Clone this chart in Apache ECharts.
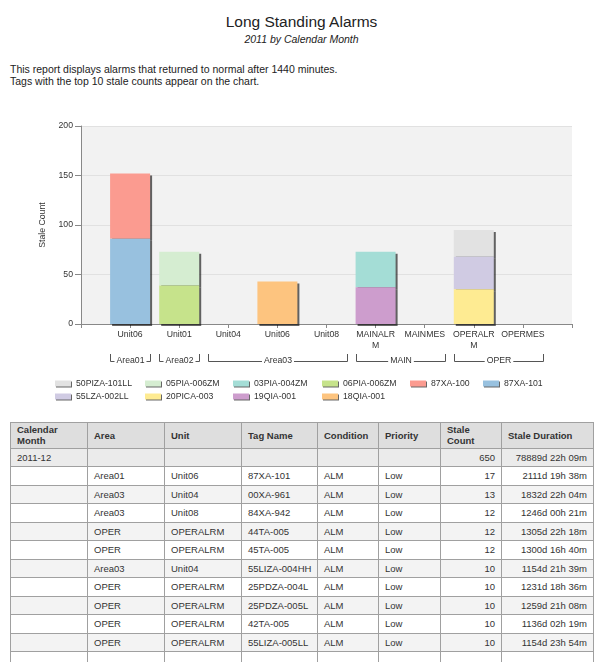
<!DOCTYPE html>
<html>
<head>
<meta charset="utf-8">
<title>Long Standing Alarms</title>
<script src="https://cdn.jsdelivr.net/npm/echarts@6.0.0/dist/echarts.min.js"></script>
<style>
html, body { margin: 0; padding: 0; background: #fff; }
body { width: 603px; height: 662px; overflow: hidden; position: relative; font-family: Arial, "Liberation Sans", sans-serif; color: #222; }
.title { position: absolute; left: 0; width: 603px; top: 13px; text-align: center; font-size: 15.5px; line-height: 18px; }
.subtitle { position: absolute; left: 0; width: 603px; top: 33px; text-align: center; font-size: 10.5px; font-style: italic; line-height: 12px; }
.desc { position: absolute; left: 10px; top: 63px; font-size: 10.5px; line-height: 12px; }
#chart { position: absolute; left: 0; top: 100px; width: 603px; height: 310px; }
table { position: absolute; left: 10px; top: 422px; width: 583px; border-collapse: collapse; table-layout: fixed; font-size: 9.5px; color: #333; }
td, th { border: 1px solid #a0a0a0; padding: 0 6px; height: 17.5px; white-space: nowrap; overflow: hidden; }
th { background: #dedede; font-weight: bold; text-align: left; height: 24.5px; line-height: 11px; }
tr.total td { background: #ebebeb; }
tr.odd td { background: #f3f3f3; }
td.num { text-align: right; }
</style>
</head>
<body>
<div class="title">Long Standing Alarms</div>
<div class="subtitle">2011 by Calendar Month</div>
<div class="desc">This report displays alarms that returned to normal after 1440 minutes.<br>Tags with the top 10 stale counts appear on the chart.</div>
<div id="chart"></div>
<table id="report">
	<colgroup>
		<col style="width:77px"><col style="width:77px"><col style="width:77px"><col style="width:76px">
		<col style="width:61px"><col style="width:62px"><col style="width:61px"><col style="width:92px">
	</colgroup>
	<thead></thead>
	<tbody></tbody>
</table>
<script>
//chart data
var categories = ['', 'Unit06', 'Unit01', 'Unit04', 'Unit06', 'Unit08', 'MAINALRM', 'MAINMES', 'OPERALRM', 'OPERMES', ''];
var groupNames = ['Area01', 'Area02', 'Area03', 'MAIN', 'OPER'];
var groupStart = [1, 2, 3, 6, 8];
var groupEnd = [1, 2, 5, 7, 9];
//tags in stacking order, bottom to top
var tagNames = ['87XA-101', '87XA-100', '06PIA-006ZM', '05PIA-006ZM', '18QIA-001', '19QIA-001', '03PIA-004ZM', '20PICA-003', '55LZA-002LL', '50PIZA-101LL'];
var tagUnit = [1, 1, 2, 2, 4, 6, 6, 8, 8, 8];
var tagCount = [86, 66, 39, 34, 43, 37, 36, 35, 33, 27];
var legendOrder = ['50PIZA-101LL', '05PIA-006ZM', '03PIA-004ZM', '06PIA-006ZM', '87XA-100', '87XA-101', '55LZA-002LL', '20PICA-003', '19QIA-001', '18QIA-001'];
var yTicks = [0, 200, 50];

//table data
var tableHead = ['Calendar<br>Month', 'Area', 'Unit', 'Tag Name', 'Condition', 'Priority', 'Stale<br>Count', 'Stale Duration'];
var totalRow = ['2011-12', '', '', '', '', '', 650, '78889d 22h 09m'];
var rowArea = ['Area01', 'Area03', 'Area03', 'OPER', 'OPER', 'Area03', 'OPER', 'OPER', 'OPER', 'OPER'];
var rowUnit = ['Unit06', 'Unit04', 'Unit08', 'OPERALRM', 'OPERALRM', 'Unit04', 'OPERALRM', 'OPERALRM', 'OPERALRM', 'OPERALRM'];
var rowTag = ['87XA-101', '00XA-961', '84XA-942', '44TA-005', '45TA-005', '55LIZA-004HH', '25PDZA-004L', '25PDZA-005L', '42TA-005', '55LIZA-005LL'];
var rowCondition = ['ALM', 'ALM', 'ALM', 'ALM', 'ALM', 'ALM', 'ALM', 'ALM', 'ALM', 'ALM'];
var rowPriority = ['Low', 'Low', 'Low', 'Low', 'Low', 'Low', 'Low', 'Low', 'Low', 'Low'];
var rowCount = [17, 13, 12, 12, 12, 10, 10, 10, 10, 10];
var rowDuration = ['2111d 19h 38m', '1832d 22h 04m', '1246d 00h 21m', '1305d 22h 18m', '1300d 16h 40m', '1154d 21h 39m', '1231d 18h 36m', '1259d 21h 08m', '1136d 02h 19m', '1154d 23h 54m'];

//styles
var tagColors = {
	'87XA-101': '#98c1df',
	'87XA-100': '#fb9b90',
	'06PIA-006ZM': '#c6e38b',
	'05PIA-006ZM': '#d5edd1',
	'18QIA-001': '#fdc47f',
	'19QIA-001': '#cd9dcd',
	'03PIA-004ZM': '#a4ddd6',
	'20PICA-003': '#feeb92',
	'55LZA-002LL': '#d0cbe3',
	'50PIZA-101LL': '#e2e2e2'
};
var LABELFONT = 8.7;
var legendCols = [55, 145, 233, 322, 410, 483];
var legendRows = [279, 292];

function buildTable() {
	var head = '<tr>' + tableHead.map(function(h) { return '<th>' + h + '</th>'; }).join('') + '</tr>';
	document.querySelector('#report thead').innerHTML = head;

	var html = '<tr class="total">' + totalRow.map(function(v, i) {
		return '<td' + (i >= 6 ? ' class="num"' : '') + '>' + v + '</td>';
	}).join('') + '</tr>';
	rowArea.forEach(function(cur, i) {
		var cells = ['', cur, rowUnit[i], rowTag[i], rowCondition[i], rowPriority[i], rowCount[i], rowDuration[i]];
		html += '<tr' + (i % 2 ? ' class="odd"' : '') + '>' + cells.map(function(v, j) {
			return '<td' + (j >= 6 ? ' class="num"' : '') + '>' + v + '</td>';
		}).join('') + '</tr>';
	});
	//next row, cut off by the page edge
	html += '<tr><td></td><td></td><td></td><td></td><td></td><td></td><td></td><td></td></tr>';
	document.querySelector('#report tbody').innerHTML = html;
}

function buildChart() {
	var chart = echarts.init(document.getElementById('chart'));

	var series = tagNames.map(function(name, i) {
		var data = categories.map(function() { return '-'; });
		data[tagUnit[i]] = tagCount[i];
		//lower blocks drawn last so the upper shadow stays hidden
		var layer = 0;
		for (var j = 0; j < i; j++) {
			if (tagUnit[j] === tagUnit[i]) layer++;
		}
		return {
			name: name,
			type: 'bar',
			stack: 'units',
			barWidth: 40,
			z: 10 - layer,
			data: data,
			emphasis: { disabled: true },
			itemStyle: {
				color: tagColors[name],
				shadowColor: 'rgba(0,0,0,0.6)',
				shadowOffsetX: 2,
				shadowOffsetY: 2,
				shadowBlur: 0
			}
		};
	});

	//group brackets under the unit labels
	series.push({
		type: 'custom',
		silent: true,
		clip: false,
		z: 20,
		data: groupNames.map(function(n, i) { return [groupStart[i], groupEnd[i], 0]; }),
		encode: { x: [0, 1], y: 2 },
		renderItem: function(params, api) {
			var a = api.coord([api.value(0), 0]);
			var b = api.coord([api.value(1), 0]);
			var x1 = Math.round(a[0] - 20) + 0.5;
			var x2 = Math.round(b[0] + 20) + 0.5;
			var yTop = Math.round(a[1]) + 30;
			var yLine = Math.round(a[1]) + 37.5;
			return {
				type: 'group',
				children: [{
					type: 'polyline',
					shape: { points: [[x1, yTop], [x1, yLine], [x2, yLine], [x2, yTop]] },
					style: { stroke: '#555', fill: null, lineWidth: 1 }
				}, {
					type: 'text',
					x: (x1 + x2) / 2,
					y: yLine - 1,
					style: {
						text: groupNames[params.dataIndex],
						align: 'center',
						verticalAlign: 'middle',
						fill: '#333',
						font: LABELFONT + 'px Arial',
						backgroundColor: '#fff',
						padding: [0, 2]
					}
				}]
			};
		}
	});

	var legends = legendOrder.map(function(name, i) {
		return {
			data: [name],
			left: legendCols[i % 6],
			top: legendRows[Math.floor(i / 6)],
			padding: 0,
			itemWidth: 16,
			itemHeight: 6,
			itemGap: 0,
			icon: 'rect',
			selectedMode: false,
			itemStyle: { shadowColor: 'rgba(0,0,0,0.6)', shadowOffsetX: 1, shadowOffsetY: 1, shadowBlur: 0 },
			textStyle: { fontSize: LABELFONT, fontFamily: 'Arial', color: '#333' }
		};
	});

	chart.setOption({
		animation: false,
		legend: legends,
		grid: {
			left: 81,
			right: 31,
			top: 26,
			bottom: 86,
			show: true,
			backgroundColor: '#f2f2f2',
			borderWidth: 0,
			outerBoundsMode: 'none'
		},
		xAxis: {
			type: 'category',
			data: categories,
			boundaryGap: false,
			axisLine: { lineStyle: { color: '#888', width: 1 } },
			axisTick: { interval: 0, length: 4, lineStyle: { color: '#888' } },
			axisLabel: {
				interval: 0,
				margin: 5.5,
				fontSize: LABELFONT,
				fontFamily: 'Arial',
				color: '#333',
				lineHeight: 10.5,
				width: 44.8,
				overflow: 'breakAll'
			},
			splitLine: { show: false }
		},
		yAxis: {
			type: 'value',
			min: yTicks[0],
			max: yTicks[1],
			interval: yTicks[2],
			name: 'Stale Count',
			nameLocation: 'middle',
			nameGap: 34,
			nameTextStyle: { fontSize: LABELFONT, fontFamily: 'Arial', color: '#333' },
			axisLine: { show: true, lineStyle: { color: '#888', width: 1 } },
			axisTick: { show: true, length: 6, lineStyle: { color: '#888' } },
			axisLabel: { margin: 8, fontSize: LABELFONT, fontFamily: 'Arial', color: '#333' },
			splitLine: { lineStyle: { color: '#e1e1e1', width: 1 } }
		},
		series: series
	});
}

buildTable();
buildChart();
</script>
</body>
</html>
